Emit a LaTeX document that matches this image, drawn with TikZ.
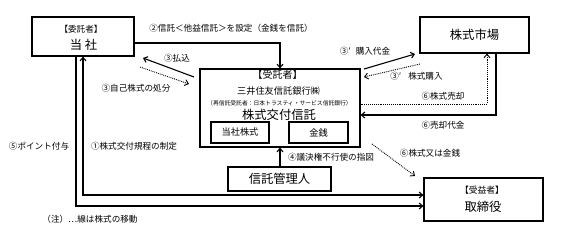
\documentclass[tikz,border=0pt]{standalone}
\usepackage{fontspec}
\setmainfont{Noto Sans CJK JP}
\usetikzlibrary{arrows.meta}
\begin{document}
\begin{tikzpicture}[x=1pt,y=-1pt,
  box/.style={draw,line width=1.1pt,inner sep=0pt},
  txt/.style={inner sep=0pt},
  lbl/.style={inner sep=0pt,font=\fontsize{8.6}{9}\selectfont},
  big/.style={inner sep=0pt,font=\fontsize{12.3}{13}\selectfont},
  arr/.style={line width=1.1pt,-{Straight Barb[length=3.5pt,width=6pt]}},
  dotarr/.style={line width=0.9pt,densely dotted,-{Straight Barb[length=3.5pt,width=6pt]}},
]
\useasboundingbox (0,0) rectangle (567,234);

% boxes
\node[box,minimum width=102pt,minimum height=39pt] (tosha) at (83,36.5) {};
\node[txt,font=\fontsize{8.6}{9}\selectfont] (toshaT) at (81,29) {【委託者】};
\node[big] (toshaN) at (83.5,45) {当\ 社};

\node[box,minimum width=160pt,minimum height=78pt] (trustee) at (280,108) {};
\node[txt,font=\fontsize{10}{11}\selectfont] (trT) at (277.5,75) {【受託者】};
\node[txt,font=\fontsize{9.2}{10}\selectfont] (trN) at (278.5,91) {三井住友信託銀行㈱};
\node[txt,font=\fontsize{5.8}{6}\selectfont] (trS) at (279.5,103) {（再信託受託者：日本トラスティ・サービス信託銀行）};
\node[big] (trK) at (279,115) {株式交付信託};
\node[box,minimum width=58pt,minimum height=21pt,font=\fontsize{9.2}{10}\selectfont] (kabu) at (240,132.5) {当社株式};
\node[box,minimum width=59pt,minimum height=21pt,font=\fontsize{9.2}{10}\selectfont] (kinsen) at (318.5,132.5) {金銭};

\node[box,minimum width=103pt,minimum height=24pt,font=\fontsize{12.3}{13}\selectfont] (kanri) at (279.5,179) {信託管理人};

\node[box,minimum width=109pt,minimum height=36pt,font=\fontsize{12.3}{13}\selectfont] (market) at (474.5,35) {株式市場};

\node[box,minimum width=119pt,minimum height=43pt] (benef) at (483.5,199.5) {};
\node[txt,font=\fontsize{8.8}{9}\selectfont] (bnT) at (482,190) {【受益者】};
\node[big] (bnN) at (483,207) {取締役};

% connectors
\draw[arr] (tosha.east |- 0,43) -| (trustee.north);
\coordinate (payA) at (194,77);
\coordinate (payB) at (143,58);
\draw[arr] (payA) -- (payB);
\coordinate (dispA) at (140,67);
\coordinate (dispB) at (189,84);
\draw[dotarr] (dispA) -- (dispB);

\coordinate (buyA) at (364,69);
\coordinate (buyB) at (415,54);
\draw[arr] (buyA) -- (buyB);
\coordinate (stA) at (420,64);
\coordinate (stB) at (364,77);
\draw[dotarr] (stA) -- (stB);

\draw[dotarr] (trustee.east |- 0,104) -| (market.south -| 487,0);
\draw[arr] (market.south -| 496,0) |- (trustee.east |- 0,115);

\coordinate (gvA) at (372,144);
\coordinate (gvB) at (415,176);
\draw[dotarr] (gvA) -- (gvB);

\draw[arr] (kanri.north -| trustee.south) -- (trustee.south);

\draw[arr] (tosha.south -| 76,0) |- (benef.west |- 0,206);
\draw[line width=1.1pt,{Straight Barb[length=3.5pt,width=6pt]}-{Straight Barb[length=3.5pt,width=6pt]}] (tosha.south -| 83,0) |- (benef.west |- 0,195);

% labels
\node[lbl] (l2) at (231,28) {②信託＜他益信託＞を設定（金銭を信託）};
\node[lbl] (l3a) at (177,58) {③払込};
\node[lbl] (l3b) at (136,88) {③自己株式の処分};
\node[lbl] (l3c) at (365,51) {③′\hspace{5pt}購入代金};
\node[lbl] (l3d) at (416.5,76) {③′\hspace{7pt}株式購入};
\node[lbl] (l6a) at (443,96) {⑥株式売却};
\node[lbl] (l6b) at (443,125) {⑥売却代金};
\node[lbl] (l6c) at (430,153) {⑥株式又は金銭};
\node[lbl] (l4) at (331,157) {④議決権不行使の指図};
\node[lbl] (l5) at (39,146) {⑤ポイント付与};
\node[lbl] (l1) at (134,146) {①株式交付規程の制定};
\node[lbl] (note) at (90,219) {（注）…線は株式の移動};
\end{tikzpicture}
\end{document}
